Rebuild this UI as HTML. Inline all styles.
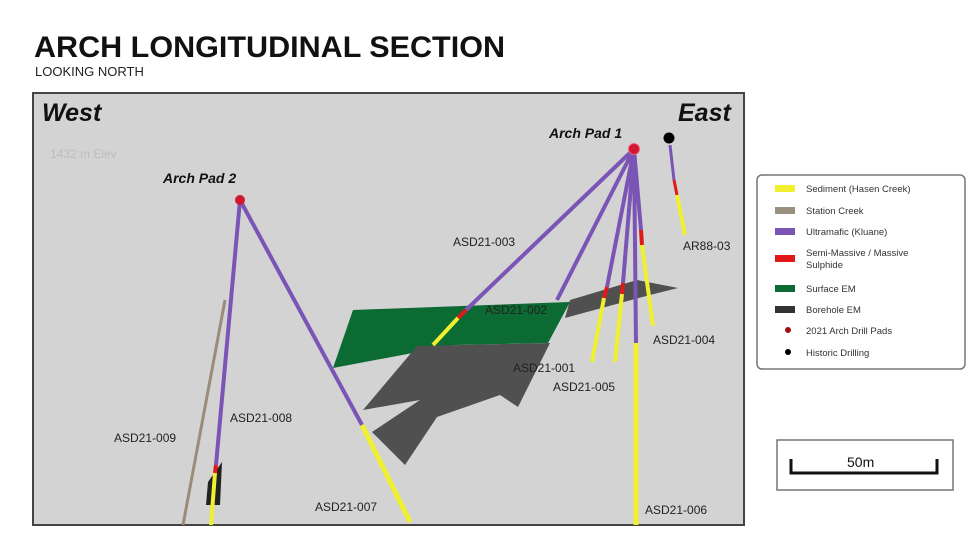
<!DOCTYPE html>
<html><head><meta charset="utf-8"><style>
body{margin:0;background:#fff;width:980px;height:551px;overflow:hidden;font-family:"Liberation Sans",sans-serif}
</style></head><body>
<svg width="980" height="551" viewBox="0 0 980 551" xmlns="http://www.w3.org/2000/svg" font-family="Liberation Sans, sans-serif">
<text x="34" y="57" font-size="30" font-weight="bold" fill="#111" textLength="471" lengthAdjust="spacingAndGlyphs">ARCH LONGITUDINAL SECTION</text>
<text x="35" y="76" font-size="13" fill="#222">LOOKING NORTH</text>
<rect x="33" y="93" width="711" height="432" fill="#d3d3d3" stroke="#444" stroke-width="2"/>
<text x="42" y="121" font-size="25" font-weight="bold" font-style="italic" fill="#111">West</text>
<text x="678" y="121" font-size="25" font-weight="bold" font-style="italic" fill="#111">East</text>
<text x="50" y="158" font-size="12" fill="#bdbdbd">1432 m Elev</text>
<text x="163" y="183" font-size="14" font-weight="bold" font-style="italic" fill="#111">Arch Pad 2</text>
<text x="549" y="138" font-size="14" font-weight="bold" font-style="italic" fill="#111">Arch Pad 1</text>
<polygon points="353,310 570,302 548,343 455,345 333,368" fill="#0c6a33"/>
<polygon points="417,346 550,343 518,407 500,395 437,417 405,465 372,432 420,400 363,410" fill="#505050"/>
<polygon points="570,300 637,280 678,288 650,295 587,312 565,318" fill="#505050"/>
<line x1="225" y1="300" x2="183" y2="525" stroke="#9a8c78" stroke-width="3"/>
<polygon points="208,482 222,462 220,505 206,505" fill="#222"/>
<line x1="240" y1="200" x2="216" y2="465" stroke="#7a55b5" stroke-width="4"/>
<line x1="216" y1="465" x2="215" y2="473" stroke="#e01818" stroke-width="4"/>
<line x1="215" y1="473" x2="211" y2="525" stroke="#f0f030" stroke-width="4"/>
<line x1="240" y1="200" x2="362" y2="425" stroke="#7a55b5" stroke-width="4"/>
<line x1="362" y1="425" x2="410" y2="522" stroke="#f0f030" stroke-width="5"/>
<line x1="634" y1="149" x2="466" y2="310" stroke="#7a55b5" stroke-width="4"/>
<line x1="466" y1="310" x2="458" y2="318" stroke="#e01818" stroke-width="4"/>
<line x1="458" y1="318" x2="433" y2="345" stroke="#f0f030" stroke-width="4"/>
<line x1="634" y1="149" x2="557" y2="300" stroke="#7a55b5" stroke-width="4"/>
<line x1="634" y1="149" x2="607" y2="287" stroke="#7a55b5" stroke-width="4"/>
<line x1="607" y1="287" x2="604" y2="298" stroke="#e01818" stroke-width="4"/>
<line x1="604" y1="298" x2="592" y2="362" stroke="#f0f030" stroke-width="4"/>
<line x1="634" y1="149" x2="623" y2="283" stroke="#7a55b5" stroke-width="4"/>
<line x1="623" y1="283" x2="622" y2="294" stroke="#e01818" stroke-width="4"/>
<line x1="622" y1="294" x2="615" y2="362" stroke="#f0f030" stroke-width="4"/>
<line x1="634" y1="149" x2="636" y2="343" stroke="#7a55b5" stroke-width="4"/>
<line x1="636" y1="343" x2="636" y2="525" stroke="#f0f030" stroke-width="5"/>
<line x1="634" y1="149" x2="641" y2="230" stroke="#7a55b5" stroke-width="4"/>
<line x1="641" y1="230" x2="642" y2="245" stroke="#e01818" stroke-width="4"/>
<line x1="642" y1="245" x2="653" y2="326" stroke="#f0f030" stroke-width="4"/>
<line x1="670" y1="145" x2="674" y2="180" stroke="#7a55b5" stroke-width="3"/>
<line x1="674" y1="180" x2="677" y2="195" stroke="#e01818" stroke-width="3"/>
<line x1="677" y1="195" x2="685" y2="235" stroke="#f0f030" stroke-width="4"/>
<circle cx="240" cy="200" r="5" fill="#d01830"/>
<circle cx="634" cy="149" r="5.5" fill="#d01830" stroke="#f06080" stroke-width="1"/>
<circle cx="669" cy="138" r="5.5" fill="#000"/>
<g font-size="12" fill="#222">
<text x="453" y="246">ASD21-003</text>
<text x="485" y="314">ASD21-002</text>
<text x="513" y="372">ASD21-001</text>
<text x="553" y="391">ASD21-005</text>
<text x="653" y="344">ASD21-004</text>
<text x="683" y="250">AR88-03</text>
<text x="230" y="422">ASD21-008</text>
<text x="114" y="442">ASD21-009</text>
<text x="315" y="511">ASD21-007</text>
<text x="645" y="514">ASD21-006</text>
</g>
<rect x="757" y="175" width="208" height="194" rx="5" fill="#fff" stroke="#777" stroke-width="1.5"/>
<g font-size="9.5" fill="#333">
<rect x="775" y="185" width="20" height="7" fill="#f0f030"/><text x="806" y="192">Sediment (Hasen Creek)</text>
<rect x="775" y="207" width="20" height="7" fill="#9a9080"/><text x="806" y="214">Station Creek</text>
<rect x="775" y="228" width="20" height="7" fill="#7a55b5"/><text x="806" y="235">Ultramafic (Kluane)</text>
<rect x="775" y="255" width="20" height="7" fill="#e01818"/><text x="806" y="256">Semi-Massive / Massive</text><text x="806" y="268">Sulphide</text>
<rect x="775" y="285" width="20" height="7" fill="#0c6a33"/><text x="806" y="292">Surface EM</text>
<rect x="775" y="306" width="20" height="7" fill="#333"/><text x="806" y="313">Borehole EM</text>
<circle cx="788" cy="330" r="3" fill="#a01010"/><text x="806" y="334">2021 Arch Drill Pads</text>
<circle cx="788" cy="352" r="3" fill="#000"/><text x="806" y="356">Historic Drilling</text>
</g>
<rect x="777" y="440" width="176" height="50" fill="#fff" stroke="#777" stroke-width="1.5"/>
<path d="M791 459 V473 H937 V459" fill="none" stroke="#111" stroke-width="3"/>
<text x="847" y="467" font-size="14" fill="#111">50m</text>
</svg>
</body></html>
